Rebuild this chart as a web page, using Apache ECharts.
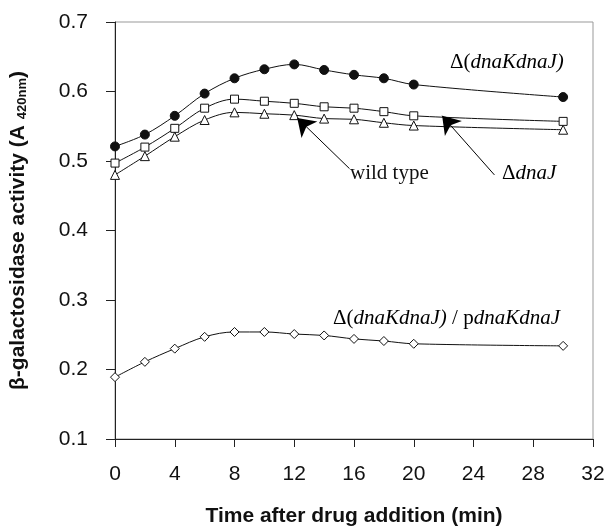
<!DOCTYPE html>
<html>
<head>
<meta charset="utf-8">
<script src="https://cdn.jsdelivr.net/npm/echarts@6/dist/echarts.min.js"></script>
<style>
html,body{margin:0;padding:0;background:#fff;}
#main{width:610px;height:532px;}
</style>
</head>
<body>
<div id="main"></div>
<script>
// 时间点 (min)
var time_min=[0,2,4,6,8,10,12,14,16,18,20,30];
// 各菌株活性
var dnaKdnaJ=[0.521,0.538,0.565,0.597,0.619,0.632,0.639,0.631,0.624,0.619,0.610,0.592];
var dnaJ=[0.497,0.520,0.547,0.576,0.589,0.586,0.583,0.578,0.576,0.571,0.565,0.557];
var wild_type=[0.480,0.507,0.535,0.559,0.570,0.568,0.566,0.561,0.560,0.555,0.551,0.545];
var rescue=[0.189,0.211,0.230,0.247,0.254,0.254,0.251,0.249,0.244,0.241,0.237,0.234];
// 箭头 [尾, 头]
var arrow_wild=[[15.7,0.489],[12.2,0.562]];
var arrow_dnaJ=[[25.4,0.480],[21.9,0.565]];

function pairs(xs,ys){
	var arr=[];
	for(var i=0;i<xs.length;i++){
		arr.push([xs[i],ys[i]]);
	}
	return arr;
}

function makeSeries(name,data,symbol,size,fill){
	return {
		name:name,
		type:'line',
		smooth:0.35,
		data:pairs(time_min,data),
		symbol:symbol,
		symbolSize:size,
		showAllSymbol:true,
		lineStyle:{color:'#111',width:1},
		itemStyle:{color:fill,borderColor:'#111',borderWidth:1},
		z:3
	};
}

//箭头注释
function arrowLine(pts){
	return {
		silent:true,
		symbol:['none','arrow'],
		symbolSize:17,
		itemStyle:{color:'#000',borderColor:'#000'},
		lineStyle:{color:'#000',width:1,type:'solid'},
		emphasis:{disabled:true},
		label:{show:false},
		data:[[
			{coord:pts[0],symbol:'none'},
			{coord:pts[1],symbol:'arrow',symbolSize:17,itemStyle:{color:'#000'}}
		]]
	};
}

var sans='"Liberation Sans", Arial, sans-serif';
var serif='"Liberation Serif", "DejaVu Serif", serif';
var italic={fontFamily:serif,fontStyle:'italic',fontSize:21,color:'#111'};
var upright={fontFamily:serif,fontSize:21,color:'#111'};

var s1=makeSeries('dnaKdnaJ',dnaKdnaJ,'circle',9,'#111');
var s2=makeSeries('dnaJ',dnaJ,'rect',8,'#fff');
var s3=makeSeries('wild type',wild_type,'triangle',9,'#fff');
var s4=makeSeries('pdnaKdnaJ',rescue,'diamond',9,'#fff');
s3.markLine=arrowLine(arrow_wild);
s2.markLine=arrowLine(arrow_dnaJ);

var option={
	animation:false,
	backgroundColor:'#fff',
	grid:{
		left:110,right:17,top:22,bottom:92,
		show:true,borderColor:'#999',borderWidth:1
	},
	xAxis:{
		type:'value',
		min:0,max:32,interval:4,
		name:'Time after drug addition (min)',
		nameLocation:'middle',
		nameGap:67,
		nameTextStyle:{fontFamily:sans,fontWeight:'bold',fontSize:21,color:'#111'},
		axisLine:{lineStyle:{color:'#222',width:1}},
		axisTick:{inside:false,length:8,lineStyle:{color:'#222'}},
		axisLabel:{fontFamily:sans,fontSize:21,color:'#111',margin:25},
		splitLine:{show:false}
	},
	yAxis:{
		type:'value',
		min:0.1,max:0.7,interval:0.1,
		name:'{b|β-galactosidase activity (A }{s|420nm}{b|)}',
		nameLocation:'middle',
		nameGap:86,
		nameTextStyle:{
			rich:{
				b:{fontFamily:sans,fontWeight:'bold',fontSize:21,color:'#111'},
				s:{fontFamily:sans,fontWeight:'bold',fontSize:13,color:'#111',padding:[7,0,0,0]}
			}
		},
		axisLine:{show:true,lineStyle:{color:'#222',width:1}},
		axisTick:{show:true,inside:false,length:9,lineStyle:{color:'#222'}},
		axisLabel:{
			fontFamily:sans,fontSize:21,color:'#111',margin:27,
			formatter:function(v){return v.toFixed(1);}
		},
		splitLine:{show:false}
	},
	graphic:[
		{type:'text',left:450,top:52,style:{
			text:'{u|Δ(}{i|dnaKdnaJ)}',
			rich:{u:upright,i:italic}
		}},
		{type:'text',left:350,top:163,style:{
			text:'wild type',
			fontFamily:serif,fontSize:21,fill:'#111'
		}},
		{type:'text',left:502,top:163,style:{
			text:'{u|Δ}{i|dnaJ}',
			rich:{u:upright,i:italic}
		}},
		{type:'text',left:333,top:308,style:{
			text:'{u|Δ(}{i|dnaKdnaJ)}{u| / p}{i|dnaKdnaJ}',
			rich:{u:upright,i:italic}
		}}
	],
	series:[s1,s2,s3,s4]
};

var myChart=echarts.init(document.getElementById('main'));
myChart.setOption(option);
</script>
</body>
</html>
